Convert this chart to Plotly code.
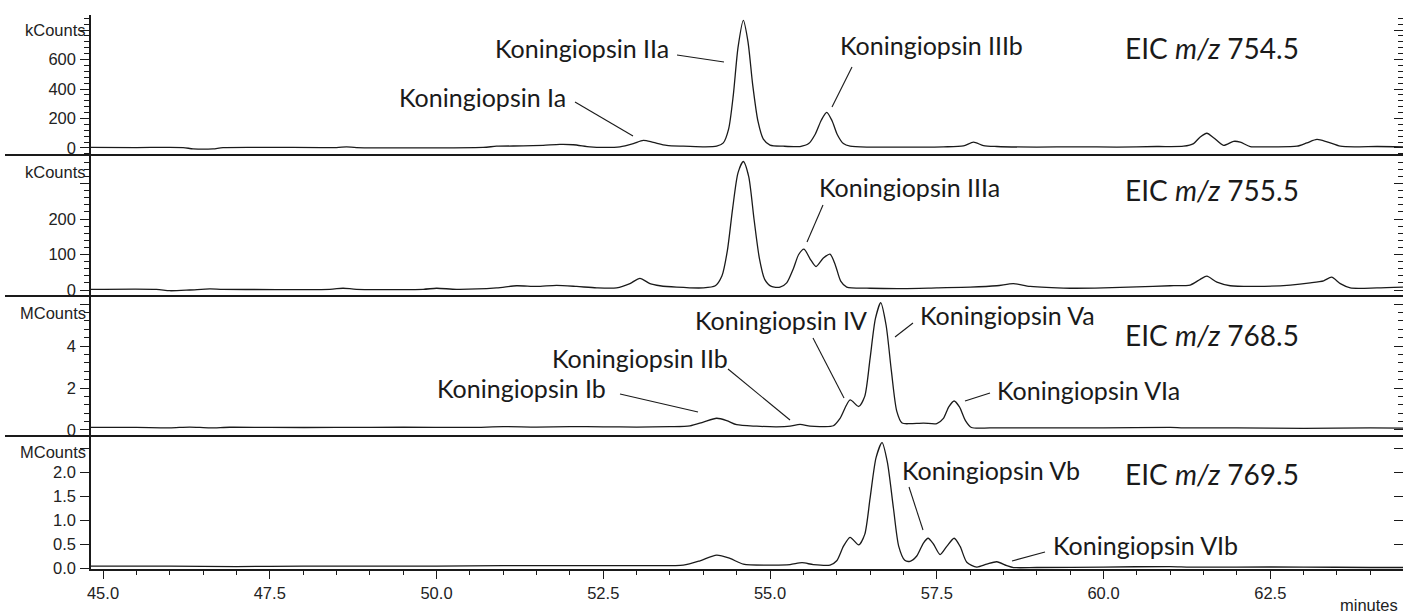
import plotly.graph_objects as go

# ---------------- data ----------------
t1 = [44.82, 45.5, 46.2, 46.35, 46.65, 46.8, 48.5, 48.65, 48.8, 50.7, 50.9, 51.3, 51.6, 51.85, 52.05,
      52.3, 52.5, 52.75, 52.95, 53.1, 53.25, 53.45, 53.7, 54.0, 54.2, 54.3, 54.38, 54.45, 54.52, 54.6,
      54.67, 54.74, 54.82, 54.9, 55.0, 55.2, 55.45, 55.58, 55.68, 55.77, 55.85, 55.93, 56.01, 56.1,
      56.2, 56.5, 57.0, 57.6, 57.9, 58.05, 58.2, 58.4, 59.0, 59.6, 60.2, 60.8, 61.2, 61.35, 61.45,
      61.55, 61.65, 61.8, 61.95, 62.05, 62.2, 62.5, 62.9, 63.05, 63.2, 63.35, 63.55, 63.8, 64.1, 64.49]
eic_754 = [4, 3, 3, -6, -6, 3, 3, 7, 3, 4, 12, 14, 18, 24, 22,
           8, 4, 8, 30, 52, 38, 18, 12, 8, 12, 35, 130, 360, 680, 865,
           720, 430, 180, 60, 20, 12, 10, 30, 95, 190, 242, 185, 90, 30,
           12, 6, 6, 8, 14, 40, 16, 10, 6, 8, 6, 10, 12, 30, 75,
           100, 70, 18, 45, 40, 10, 8, 12, 35, 58, 42, 12, 8, 10, 8]

t2 = [44.82, 45.8, 46.0, 46.3, 46.6, 46.8, 48.4, 48.6, 48.8, 49.8, 50.0, 50.3, 50.9, 51.2, 51.5,
      51.8, 52.1, 52.4, 52.7, 52.9, 53.05, 53.2, 53.35, 53.6, 54.0, 54.18, 54.28, 54.36, 54.44, 54.52,
      54.6, 54.68, 54.76, 54.84, 54.92, 55.02, 55.15, 55.25, 55.35, 55.43, 55.51, 55.6, 55.69, 55.8,
      55.9, 55.98, 56.06, 56.15, 56.5, 57.0, 57.5, 58.0, 58.4, 58.65, 58.9, 59.5, 60.0, 60.5, 61.0,
      61.3, 61.45, 61.55, 61.7, 61.9, 62.3, 62.8, 63.1, 63.3, 63.42, 63.55, 63.7, 64.1, 64.49]
eic_755 = [2, 2, -2, 0, 3, 2, 2, 5, 2, 2, 5, 2, 6, 12, 10,
           13, 10, 6, 6, 18, 33, 18, 12, 8, 6, 12, 40, 110, 230, 330,
           362, 320, 200, 90, 30, 10, 8, 20, 60, 100, 115, 88, 66, 90,
           101, 70, 25, 8, 5, 4, 6, 8, 12, 18, 10, 5, 6, 9, 12,
           14, 30, 39, 22, 12, 10, 14, 20, 26, 36, 18, 6, 6, 8]

t3 = [44.82, 45.5, 46.0, 46.3, 46.6, 46.9, 47.5, 48.5, 49.5, 50.5, 51.0, 51.5, 52.0, 52.5, 53.0,
      53.5, 53.8, 54.0, 54.2, 54.35, 54.5, 54.8, 55.1, 55.3, 55.45, 55.6, 55.8, 55.95, 56.05, 56.2,
      56.33, 56.42, 56.5, 56.58, 56.66, 56.74, 56.82, 56.9, 56.98, 57.1, 57.3, 57.5, 57.6, 57.68,
      57.76, 57.84, 57.93, 58.02, 58.3, 59.0, 60.0, 61.0, 61.2, 62.0, 63.0, 64.0, 64.49]
eic_768 = [0.12, 0.12, 0.10, 0.14, 0.10, 0.13, 0.12, 0.12, 0.13, 0.12, 0.16, 0.14, 0.16, 0.15, 0.14,
           0.16, 0.20, 0.38, 0.56, 0.45, 0.25, 0.18, 0.15, 0.18, 0.27, 0.18, 0.16, 0.20, 0.55, 1.43,
           1.12, 1.60, 3.40, 5.30, 6.06, 5.00, 2.80, 0.90, 0.33, 0.30, 0.33, 0.30, 0.55, 1.10,
           1.38, 1.10, 0.45, 0.12, 0.10, 0.10, 0.10, 0.12, 0.10, 0.10, 0.08, 0.10, 0.09]

t4 = [44.82, 46.0, 47.0, 48.0, 49.0, 50.0, 51.0, 52.0, 53.0, 53.7, 53.95, 54.2, 54.4, 54.6, 55.0,
      55.3, 55.48, 55.65, 55.9, 56.0, 56.1, 56.2, 56.33, 56.42, 56.5, 56.59, 56.68, 56.76, 56.85,
      56.93, 57.02, 57.1, 57.2, 57.3, 57.37, 57.45, 57.55, 57.65, 57.76, 57.85, 57.95, 58.1, 58.25,
      58.4, 58.55, 58.65, 59.0, 60.0, 61.0, 61.3, 62.0, 63.0, 64.0, 64.49]
eic_769 = [0.04, 0.04, 0.03, 0.04, 0.04, 0.04, 0.05, 0.05, 0.05, 0.06, 0.15, 0.27, 0.20, 0.08, 0.06,
           0.07, 0.11, 0.07, 0.06, 0.15, 0.45, 0.64, 0.48, 0.70, 1.45, 2.30, 2.61, 2.20, 1.25,
           0.45, 0.16, 0.14, 0.25, 0.52, 0.62, 0.50, 0.28, 0.45, 0.62, 0.45, 0.12, 0.02, 0.08,
           0.13, 0.05, 0.01, 0.01, 0.02, 0.03, 0.02, 0.02, 0.02, 0.01, 0.01]

x_tickvals = [45.0, 47.5, 50.0, 52.5, 55.0, 57.5, 60.0, 62.5]
units = ["kCounts", "kCounts", "MCounts", "MCounts"]
eic_titles = ["754.5", "755.5", "768.5", "769.5"]
compound_labels = ["Koningiopsin Ia", "Koningiopsin IIa", "Koningiopsin IIIb", "Koningiopsin IIIa",
                   "Koningiopsin Ib", "Koningiopsin IIb", "Koningiopsin IV", "Koningiopsin Va",
                   "Koningiopsin VIa", "Koningiopsin Vb", "Koningiopsin VIb"]

# ---------------- layout geometry ----------------
W, H = 1411, 615
ML, MR, MT, MB = 91, 8, 15, 46
PW = W - ML - MR
PH = H - MT - MB
bounds_px = [15, 155, 296, 436, 569]          # panel edges (pixels from top)

def py2paper(py):
    return (H - MB - py) / PH

def px2paper(px):
    return (px - ML) / PW

domains = [[py2paper(bounds_px[i + 1]), py2paper(bounds_px[i])] for i in range(4)]
yranges = [[-47.5, 901.7], [-16.9, 380.3], [-0.286, 6.381], [-0.0208, 2.75]]
major = [dict(tickvals=[0, 200, 400, 600, 800], ticktext=["0", "200", "400", "600", ""]),
         dict(tickvals=[0, 100, 200, 300], ticktext=["0", "100", "200", ""]),
         dict(tickvals=[0, 2, 4, 6], ticktext=["0", "2", "4", ""]),
         dict(tickvals=[0.0, 0.5, 1.0, 1.5, 2.0, 2.5], ticktext=["0.0", "0.5", "1.0", "1.5", "2.0", ""])]
minor_dt = [40, 20, 0.4, None]

INK = "#1a1a1a"
TICKFONT = dict(family="Liberation Sans, Arial, sans-serif", size=16.5, color="#222222")
LABELFONT = dict(family="Lato, sans-serif", size=25, color="#1a1a1a")
EICFONT = dict(family="Lato, sans-serif", size=28, color="#1a1a1a")

fig = go.Figure()
series = [(t1, eic_754), (t2, eic_755), (t3, eic_768), (t4, eic_769)]
for i, (tx, vy) in enumerate(series):
    fig.add_trace(go.Scatter(x=tx, y=vy, mode="lines", xaxis="x",
                             yaxis="y" if i == 0 else f"y{i+1}",
                             line=dict(color=INK, width=1.3, shape="spline", smoothing=0.7),
                             hoverinfo="skip", showlegend=False))
    # placeholder trace so the right-hand mirrored tick axis is drawn
    fig.add_trace(go.Scatter(x=[None], y=[None], xaxis="x", yaxis=f"y{i+5}",
                             showlegend=False, hoverinfo="skip"))

layout = dict(
    width=W, height=H, margin=dict(l=ML, r=MR, t=MT, b=MB),
    paper_bgcolor="white", plot_bgcolor="white", showlegend=False,
    xaxis=dict(range=[44.82, 64.49], anchor="y4", showline=True, linecolor=INK, linewidth=1.5,
               ticks="outside", ticklen=8, tickwidth=1, tickcolor=INK,
               tickvals=x_tickvals, ticktext=[f"{v:.1f}" for v in x_tickvals],
               tickfont=TICKFONT, showgrid=False, zeroline=False,
               minor=dict(dtick=0.5, tick0=45, ticks="outside", ticklen=4, tickcolor=INK)),
)
for i in range(4):
    key = "yaxis" if i == 0 else f"yaxis{i+1}"
    ax = dict(domain=domains[i], range=yranges[i], anchor="x", showline=True, linecolor=INK,
              linewidth=1.5, ticks="outside", ticklen=9, tickcolor=INK, tickwidth=1,
              tickfont=TICKFONT, showgrid=False, zeroline=False, ticklabelstandoff=1,
              **major[i])
    if minor_dt[i]:
        ax["minor"] = dict(dtick=minor_dt[i], tick0=0, ticks="outside", ticklen=5, tickcolor=INK)
    layout[key] = ax
    rax = dict(overlaying="y" if i == 0 else f"y{i+1}", side="right", anchor="x",
               range=yranges[i], ticks="inside", ticklen=9, tickcolor=INK, tickwidth=1,
               showticklabels=False, showline=False, showgrid=False, zeroline=False,
               tickvals=major[i]["tickvals"])
    if minor_dt[i]:
        rax["minor"] = dict(dtick=minor_dt[i], tick0=0, ticks="inside", ticklen=5, tickcolor=INK)
    layout[f"yaxis{i+5}"] = rax
fig.update_layout(**layout)

# panel separator lines (extend into the left margin)
for b in bounds_px[1:4]:
    fig.add_shape(type="line", xref="paper", yref="paper", x0=px2paper(5), x1=1,
                  y0=py2paper(b), y1=py2paper(b), line=dict(color=INK, width=2), layer="above")

# unit labels at the top of each panel
unit_py = [30, 172, 313, 452]
for u, py in zip(units, unit_py):
    fig.add_annotation(text=u, xref="paper", yref="paper", x=px2paper(88), y=py2paper(py),
                       xanchor="right", yanchor="middle", showarrow=False, font=TICKFONT)

fig.add_annotation(text="minutes", xref="paper", yref="paper", x=px2paper(1400), y=py2paper(605),
                   xanchor="right", yanchor="middle", showarrow=False, font=TICKFONT)

# EIC titles
eic_py = [48, 190, 335, 474]
for title, py in zip(eic_titles, eic_py):
    fig.add_annotation(text=f"EIC <i>m/z</i> {title}", xref="paper", yref="paper",
                       x=px2paper(1123), y=py2paper(py), xanchor="left", yanchor="middle",
                       showarrow=False, font=EICFONT)

# compound labels: (label index, left px, centre py)
label_pos = [(0, 397, 97), (1, 493, 48), (2, 838, 45), (3, 817, 187),
             (4, 435, 388), (5, 550, 358), (6, 693, 320), (7, 918, 315),
             (8, 995, 390), (9, 900, 470), (10, 1051, 545)]
for idx, px, py in label_pos:
    fig.add_annotation(text=compound_labels[idx], xref="paper", yref="paper",
                       x=px2paper(px), y=py2paper(py), xanchor="left", yanchor="middle",
                       showarrow=False, font=LABELFONT)

# leader lines (pixel coordinates of the picture)
leaders = [(575, 102, 633, 136), (677, 55, 724, 62), (852, 67, 832, 107), (823, 205, 807, 242),
           (620, 394, 698, 412), (728, 369, 790, 420), (813, 338, 844, 398), (913, 323, 895, 337),
           (965, 401, 990, 393), (909, 487, 923, 530), (1012, 561, 1045, 552)]
for x0, y0, x1, y1 in leaders:
    fig.add_shape(type="line", xref="paper", yref="paper", x0=px2paper(x0), y0=py2paper(y0),
                  x1=px2paper(x1), y1=py2paper(y1), line=dict(color=INK, width=1.1))

fig.write_html("out.html")
